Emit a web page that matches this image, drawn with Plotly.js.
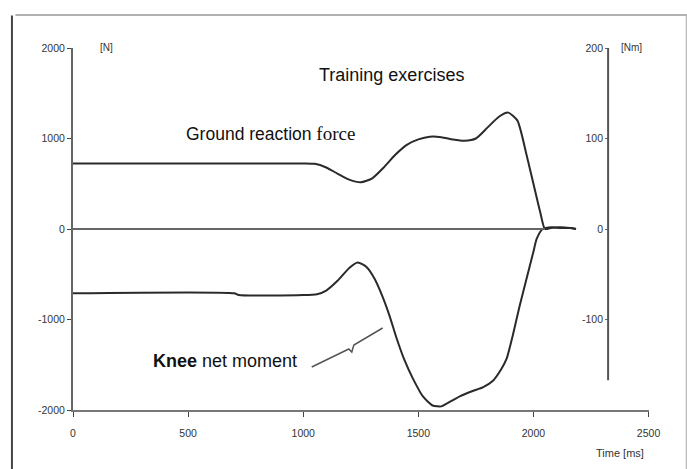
<!DOCTYPE html>
<html><head><meta charset="utf-8">
<script src="https://cdn.plot.ly/plotly-3.0.1.min.js"></script>
<style>html,body{margin:0;padding:0;background:#fff}#c{width:687px;height:469px}</style>
</head><body><div id="c"></div>
<script>
// Time axis [ms]
const grfTime   = [0, 1000, 1050, 1100, 1150, 1200, 1250, 1300, 1350, 1400, 1450, 1500, 1550, 1600, 1650, 1700, 1750, 1800, 1850, 1890, 1930, 1970, 2000, 2030, 2050, 2080, 2120, 2160, 2185];
// Ground reaction force [N]
const grfValues = [725, 725, 720, 680, 610, 545, 516, 560, 680, 820, 930, 990, 1020, 1015, 990, 975, 1000, 1120, 1240, 1286, 1200, 820, 500, 180, 0, 15, 20, 10, 0];

const kneeTime   = [0, 700, 720, 1000, 1060, 1100, 1150, 1200, 1237, 1275, 1310, 1345, 1375, 1406, 1440, 1476, 1520, 1562, 1600, 1623, 1680, 1736, 1780, 1823, 1860, 1884, 1910, 1940, 1970, 2000, 2014, 2040, 2080, 2120, 2160, 2185];
// Knee net moment [Nm]
const kneeValues = [-71, -71, -73, -73, -72, -68, -57, -43, -37, -42, -55, -75, -96, -121, -145, -165, -185, -195, -196, -193, -185, -179, -175, -168, -155, -143, -118, -85, -55, -25, -11, 0, 2, 1, 1, 0];

const xTicks = [0, 500, 1000, 1500, 2000, 2500];
const yLeftTicks = [2000, 1000, 0, -1000, -2000];
const yRightTicks = [200, 100, 0, -100];

const lineCol = '#2a2a2a';
const tickFont = {family: 'Liberation Sans, Arial, sans-serif', size: 10.5, color: '#333'};

const traces = [
  {x: grfTime, y: grfValues, type: 'scatter', mode: 'lines', yaxis: 'y',
   line: {color: lineCol, width: 2, shape: 'spline', smoothing: 0.6}, hoverinfo: 'skip'},
  {x: kneeTime, y: kneeValues, type: 'scatter', mode: 'lines', yaxis: 'y2',
   line: {color: lineCol, width: 2, shape: 'spline', smoothing: 0.6}, hoverinfo: 'skip'}
];

const sans = 'Liberation Sans, Arial, sans-serif';
function ann(text, px, py, font) {
  return {text: text, xref: 'paper', yref: 'paper', x: (px - 73) / 576, y: (410 - py) / 362,
          xanchor: 'center', yanchor: 'middle', showarrow: false, font: font};
}
const layout = {
  width: 687, height: 469,
  margin: {l: 73, r: 38, t: 48, b: 59},
  paper_bgcolor: '#fff', plot_bgcolor: '#fff',
  showlegend: false,
  xaxis: {range: [0, 2502], tickvals: xTicks, ticktext: xTicks.map(String),
    showgrid: false, zeroline: false, showline: true, linecolor: '#777', linewidth: 2,
    ticks: 'outside', ticklen: 5, tickcolor: '#444', tickfont: tickFont, ticklabelstandoff: 7},
  yaxis: {range: [-2000, 2000], tickvals: yLeftTicks, ticktext: yLeftTicks.map(String),
    showgrid: false, zeroline: false, showline: true, linecolor: '#666', linewidth: 2,
    ticks: 'outside', ticklen: 4, tickcolor: '#444', tickfont: tickFont},
  yaxis2: {range: [-200, 200], overlaying: 'y', side: 'left', anchor: 'free', position: 0.929,
    tickvals: yRightTicks, ticktext: yRightTicks.map(String),
    showgrid: false, zeroline: false, showline: false,
    ticks: 'outside', ticklen: 3, tickcolor: '#666', ticklabelposition: 'outside', tickfont: tickFont},
  shapes: [
    {type: 'line', xref: 'x', yref: 'y', x0: 0, x1: 2050, y0: 0, y1: 0, line: {color: '#666', width: 2}},
    {type: 'line', xref: 'paper', yref: 'y2', x0: 0.929, x1: 0.929, y0: 200, y1: -167, line: {color: '#555', width: 2}},
    {type: 'path', xref: 'x', yref: 'y',
     path: 'M 1037 -1525 L 1198 -1326 L 1211 -1359 L 1220 -1282 L 1345 -1094',
     line: {color: '#555', width: 1.5}},
    {type: 'line', xref: 'paper', yref: 'paper', x0: -0.106, x1: -0.106, y0: 1.09, y1: -0.17, line: {color: '#444', width: 2}},
    {type: 'line', xref: 'paper', yref: 'paper', x0: -0.1, x1: 1.07, y0: 1.091, y1: 1.091, line: {color: '#999', width: 1.5}},
    {type: 'line', xref: 'paper', yref: 'paper', x0: 1.065, x1: 1.065, y0: 1.09, y1: -0.17, line: {color: '#bbb', width: 1.5}}
  ],
  annotations: [
    ann('Training exercises', 391, 75, {family: sans, size: 18, color: '#111'}),
    ann('Ground reaction <span style="font-family:Liberation Serif, Times New Roman, serif; font-size:19px">force</span>', 270, 133, {family: sans, size: 17.5, color: '#111'}),
    ann('<b>Knee</b> net moment', 225, 361, {family: sans, size: 18, color: '#111'}),
    ann('[N]', 106, 47, {family: sans, size: 10, color: '#333'}),
    ann('[Nm]', 631, 47, {family: sans, size: 10, color: '#333'}),
    ann('Time [ms]', 620, 453, {family: sans, size: 11, color: '#333'})
  ]
};

Plotly.newPlot('c', traces, layout, {staticPlot: true, displayModeBar: false});
</script></body></html>
